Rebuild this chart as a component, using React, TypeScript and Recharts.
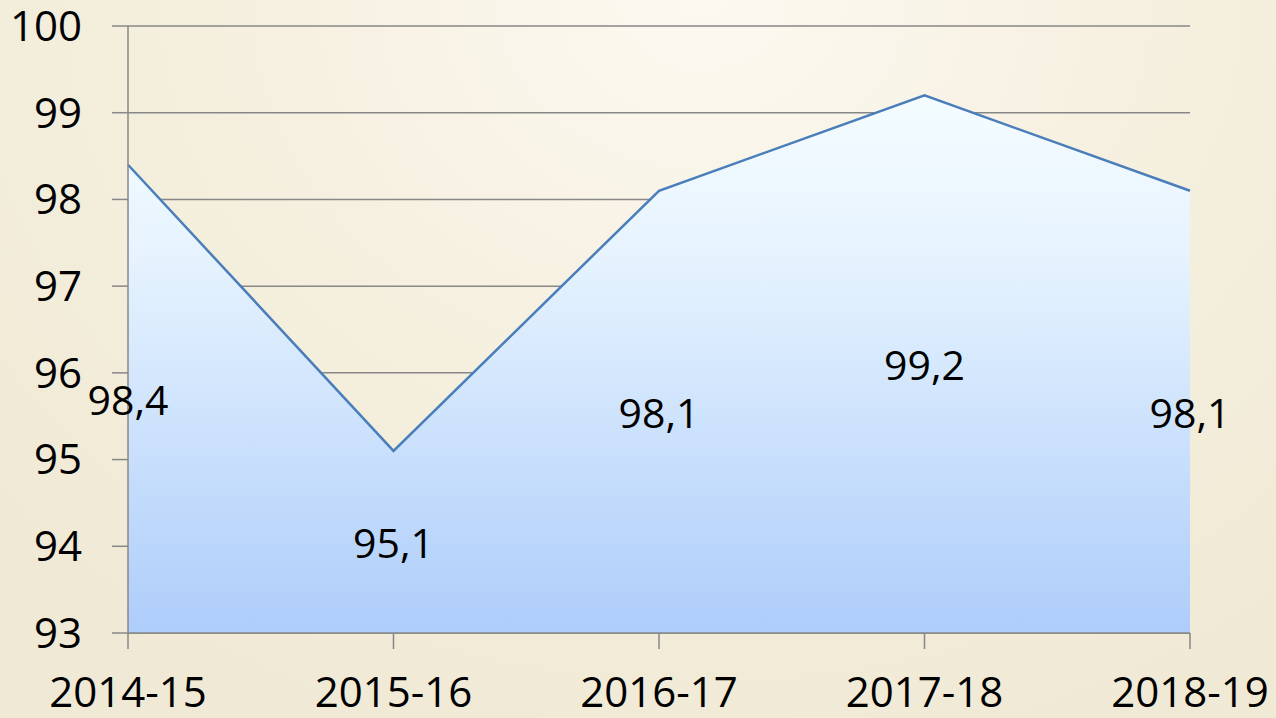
import React from "react";
import {
    ComposedChart,
    Area,
    Line,
    XAxis,
    YAxis,
    CartesianGrid,
    LabelList
} from "recharts";

const years = ["2014-15", "2015-16", "2016-17", "2017-18", "2018-19"];
const values = [98.4, 95.1, 98.1, 99.2, 98.1];
const yTicks = [93, 94, 95, 96, 97, 98, 99, 100];

const yMin = yTicks[0];
const yMax = yTicks[yTicks.length - 1];

// label sits halfway up the filled area, like the original
const data = years.map((name, i) => ({
    name,
    value: values[i],
    mid: (yMin + values[i]) / 2
}));

const font = "'Open Sans', 'DejaVu Sans', sans-serif";

const renderLabel = (props) => {
    const { x, y, index } = props;
    return (
        <text
            x={x}
            y={y}
            textAnchor="middle"
            dominantBaseline="central"
            fontSize={41}
            fontFamily={font}
            fill="#000"
        >
            {String(values[index]).replace(".", ",")}
        </text>
    );
};

export default function App() {
    return (
        <div
            style={{
                position: "absolute",
                left: 0,
                top: 0,
                width: 1276,
                height: 718,
                background:
                    "radial-gradient(ellipse 75% 110% at 55% 0%, #fcf9f1 0%, #f6f0e0 45%, #efe9d5 100%)"
            }}
        >
            <ComposedChart
                width={1276}
                height={718}
                data={data}
                margin={{ top: 26, right: 86, bottom: 0, left: 0 }}
            >
                <defs>
                    <linearGradient id="areaFill" x1="0" y1="0" x2="0" y2="1">
                        <stop offset="0%" stopColor="#f4fcff" />
                        <stop offset="30%" stopColor="#e6f3fe" />
                        <stop offset="100%" stopColor="#aecdfa" />
                    </linearGradient>
                </defs>
                <CartesianGrid
                    horizontal={true}
                    vertical={false}
                    stroke="#878787"
                    strokeWidth={1.5}
                />
                <XAxis
                    dataKey="name"
                    height={85}
                    stroke="#878787"
                    strokeWidth={1.5}
                    tickSize={16}
                    tickMargin={28}
                    interval={0}
                    padding={{ left: 0, right: 0 }}
                    tick={{ fill: "#000", fontSize: 42, fontFamily: font }}
                    scale="point"
                />
                <YAxis
                    domain={[yMin, yMax]}
                    ticks={yTicks}
                    width={128}
                    stroke="#878787"
                    strokeWidth={1.5}
                    tickSize={16}
                    tickMargin={30}
                    tick={{ fill: "#000", fontSize: 42, fontFamily: font }}
                    interval={0}
                />
                <Area
                    type="linear"
                    dataKey="value"
                    stroke="#4a7ebb"
                    strokeWidth={2.5}
                    fill="url(#areaFill)"
                    fillOpacity={1}
                    baseValue={yMin}
                    isAnimationActive={false}
                />
                <Line
                    type="linear"
                    dataKey="mid"
                    stroke="none"
                    dot={false}
                    activeDot={false}
                    isAnimationActive={false}
                >
                    <LabelList dataKey="mid" content={renderLabel} />
                </Line>
            </ComposedChart>
        </div>
    );
}
